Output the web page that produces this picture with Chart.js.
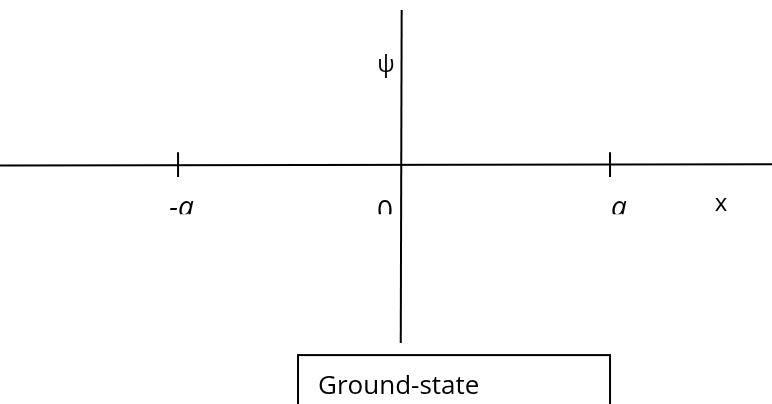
<!DOCTYPE html>
<html lang="en">
<head>
<meta charset="UTF-8">
<title>Ground-state</title>
<script src="https://cdn.jsdelivr.net/npm/chart.js"></script>
<style>
  html, body { margin: 0; padding: 0; background: #fff; }
  #wrap { width: 772px; height: 404px; }
</style>
</head>
<body>
<div id="wrap"><canvas id="psiChart" width="772" height="404"></canvas></div>
<script>
// units: a = 1 (about 209 px per unit on both axes)
const xRange = [-1.919, 1.775];
const yRange = [-1.148, 0.785];
const xAxisLine = [{ x: -1.919, y: -0.007 }, { x: 1.775, y: -0.0014 }];
const psiAxisLine = [{ x: 0.003, y: 0.737 }, { x: -0.0014, y: -0.856 }];
const tickX = [-1.067, 1];
const tickSpan = [0.057, -0.062];
const axisLabels = ['-a', '0', 'a'];
const boxCorners = { x: [-0.493, 1.0], y: [-0.914, -1.2] };

const lineStyle = { showLine: true, pointRadius: 0, borderColor: '#000', borderWidth: 2, fill: false };

const datasets = [
  { ...lineStyle, data: xAxisLine },
  { ...lineStyle, data: psiAxisLine },
  ...tickX.map(t => ({ ...lineStyle, data: tickSpan.map(v => ({ x: t, y: v })) }))
];

// where the words sit, in axis units
const textSpots = {
  '-a': { x: -1.05, y: -0.249, font: 'italic 28px "Open Sans"', clip: true },
  '0':  { x: -0.077, y: -0.268, font: '28px "Open Sans"', clip: true },
  'a':  { x: 1.043, y: -0.249, font: 'italic 28px "Open Sans"', clip: true },
  'x':  { x: 1.531, y: -0.225, font: '24px "Open Sans"' },
  'ψ':  { x: -0.072, y: 0.44, font: '23px "Open Sans"' }
};

const textPlugin = {
  id: 'textPlugin',
  afterDatasetsDraw(chart) {
    const { ctx } = chart;
    const xs = chart.scales.x, ys = chart.scales.y;
    ctx.save();
    ctx.fillStyle = '#000';
    ctx.textAlign = 'center';
    ctx.textBaseline = 'alphabetic';
    const clipY = ys.getPixelForValue(-0.24);
    Object.entries(textSpots).forEach(([txt, s]) => {
      ctx.save();
      if (s.clip) {
        ctx.beginPath();
        ctx.rect(0, 0, chart.width, clipY);
        ctx.clip();
      }
      ctx.font = s.font;
      ctx.fillText(txt, xs.getPixelForValue(s.x), ys.getPixelForValue(s.y));
      ctx.restore();
    });

    // label box
    const bx0 = xs.getPixelForValue(boxCorners.x[0]);
    const bx1 = xs.getPixelForValue(boxCorners.x[1]);
    const by0 = ys.getPixelForValue(boxCorners.y[0]);
    const by1 = ys.getPixelForValue(boxCorners.y[1]);
    ctx.strokeStyle = '#000';
    ctx.lineWidth = 2;
    ctx.strokeRect(bx0, by0, bx1 - bx0, by1 - by0);
    ctx.font = '26px "Open Sans"';
    ctx.textAlign = 'left';
    ctx.fillText('Ground-state', xs.getPixelForValue(-0.397), ys.getPixelForValue(-1.1));
    ctx.restore();
  }
};

new Chart(document.getElementById('psiChart'), {
  type: 'scatter',
  data: { datasets },
  options: {
    responsive: false,
    animation: false,
    layout: { padding: 0 },
    plugins: { legend: { display: false }, tooltip: { enabled: false } },
    scales: {
      x: { type: 'linear', min: xRange[0], max: xRange[1], display: false },
      y: { type: 'linear', min: yRange[0], max: yRange[1], display: false }
    }
  },
  plugins: [textPlugin]
});
</script>
</body>
</html>
